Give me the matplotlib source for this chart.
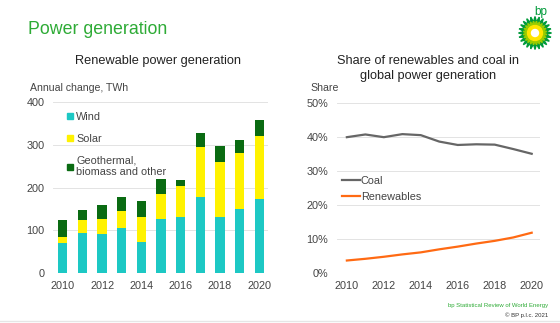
import numpy as np
import matplotlib
matplotlib.use("Agg")
import matplotlib.pyplot as plt
from matplotlib.patches import Patch, Polygon, Circle
from matplotlib.lines import Line2D

plt.rcParams['font.family'] = ['Liberation Sans', 'DejaVu Sans']

# annual change in renewable power generation, TWh
years = np.arange(2010, 2021)
wind = [70, 94, 91, 106, 71, 127, 131, 178, 131, 150, 173]
solar = [14, 30, 36, 38, 60, 58, 73, 118, 130, 130, 149]
other = [40, 23, 32, 34, 38, 36, 13, 33, 37, 31, 36]

# share of global power generation, %
coal_share = [40.0, 40.8, 40.0, 40.9, 40.6, 38.7, 37.7, 37.9, 37.8, 36.5, 35.1]
renew_share = [3.6, 4.1, 4.7, 5.4, 6.0, 6.9, 7.7, 8.6, 9.4, 10.4, 11.8]

GREEN = '#2eab36'
WIND_C = '#1dc8c4'
SOLAR_C = '#fff200'
OTHER_C = '#0a6b12'
COAL_C = '#666666'
RENEW_C = '#ff6a13'
GRID_C = '#e3e3e3'
TXT = '#444444'

W, H = 560, 323
fig = plt.figure(figsize=(W / 100, H / 100), dpi=100)


def px_axes(x0, y0, x1, y1):
    return fig.add_axes([x0 / W, 1 - y1 / H, (x1 - x0) / W, (y1 - y0) / H])


def ftext(x, y, s, **kw):
    return fig.text(x / W, 1 - y / H, s, **kw)


def style(ax):
    for s in ax.spines.values():
        s.set_visible(False)
    ax.tick_params(length=0, labelsize=7.8, colors=TXT, pad=6)
    ax.grid(axis='y', color=GRID_C, lw=0.7)
    ax.set_axisbelow(True)
    ax.set_xticks(years[::2])


ftext(28, 29, 'Power generation', color=GREEN, fontsize=12.8,
      va='center', ha='left')

# left: stacked bars
ax1 = px_axes(53, 102.3, 268, 272.7)
b1 = np.array(wind)
b2 = b1 + np.array(solar)
ax1.bar(years, wind, width=0.47, color=WIND_C)
ax1.bar(years, solar, width=0.47, bottom=b1, color=SOLAR_C)
ax1.bar(years, other, width=0.47, bottom=b2, color=OTHER_C)
ax1.set_xlim(2009.5, 2020.45)
ax1.set_ylim(0, 400)
ax1.set_yticks([0, 100, 200, 300, 400])
style(ax1)
ftext(158, 61, 'Renewable power generation', fontsize=9.2, color='#222222',
      ha='center', va='center')
ftext(30, 88, 'Annual change, TWh', fontsize=7.6, color=TXT, va='center')
handles = [Patch(color=WIND_C), Patch(color=SOLAR_C), Patch(color=OTHER_C)]
ax1.legend(handles, ['Wind', 'Solar', 'Geothermal,\nbiomass and other'],
           loc='upper left', bbox_to_anchor=(0.02, 1.0), frameon=False,
           fontsize=7.8, handlelength=0.55, handleheight=0.55, handletextpad=0.3,
           labelspacing=1.1, labelcolor=TXT)

# right: share lines
ax2 = px_axes(336.7, 103.3, 540, 272.7)
ax2.plot(years, coal_share, color=COAL_C, lw=1.6)
ax2.plot(years, renew_share, color=RENEW_C, lw=1.6)
ax2.set_xlim(2009.45, 2020.45)
ax2.set_ylim(0, 50)
ax2.set_yticks([0, 10, 20, 30, 40, 50])
ax2.set_yticklabels([f'{v}%' for v in [0, 10, 20, 30, 40, 50]])
style(ax2)
ftext(428, 61, 'Share of renewables and coal in', fontsize=9.2,
      color='#222222', ha='center', va='center')
ftext(428, 75.5, 'global power generation', fontsize=9.2,
      color='#222222', ha='center', va='center')
ftext(310, 88, 'Share', fontsize=7.6, color=TXT, va='center')
lh = [Line2D([], [], color=COAL_C, lw=1.6), Line2D([], [], color=RENEW_C, lw=1.6)]
ax2.legend(lh, ['Coal', 'Renewables'], loc='upper left',
           bbox_to_anchor=(-0.02, 0.63), frameon=False, fontsize=7.8,
           handlelength=1.6, handletextpad=0.1, labelspacing=0.55,
           labelcolor=TXT)

# footer
ftext(548, 305, 'bp Statistical Review of World Energy',
      fontsize=4.3, color=GREEN, ha='right', va='center')
ftext(548, 315, '\u00a9 BP p.l.c. 2021', fontsize=4.3,
      color='#333333', ha='right', va='center')
fig.add_artist(Line2D([0, 1], [1 - 321 / H] * 2, color='#e6e6e6', lw=1))

# logo
lax = px_axes(510, 0, 560, 50)
lax.set_xlim(0, 50)
lax.set_ylim(50, 0)
lax.axis('off')
cx, cy = 25, 33
n = 24
ang = np.linspace(0, 2 * np.pi, 2 * n, endpoint=False)
rad = np.where(np.arange(2 * n) % 2 == 0, 16.5, 11)
lax.add_patch(Polygon(np.c_[cx + rad * np.cos(ang), cy + rad * np.sin(ang)],
                      color='#009a3a'))
rad2 = np.where(np.arange(2 * n) % 2 == 0, 12, 8.5)
lax.add_patch(Polygon(np.c_[cx + rad2 * np.cos(ang + 0.13), cy + rad2 * np.sin(ang + 0.13)],
                      color='#99cc00'))
lax.add_patch(Circle((cx, cy), 7.5, color='#ffe500'))
lax.add_patch(Circle((cx, cy), 3.5, color='#ffffff'))
lax.text(31, 12, 'bp', color='#009a3a', fontsize=8.5, ha='center', va='center')

fig.savefig('out.png', dpi=100)
